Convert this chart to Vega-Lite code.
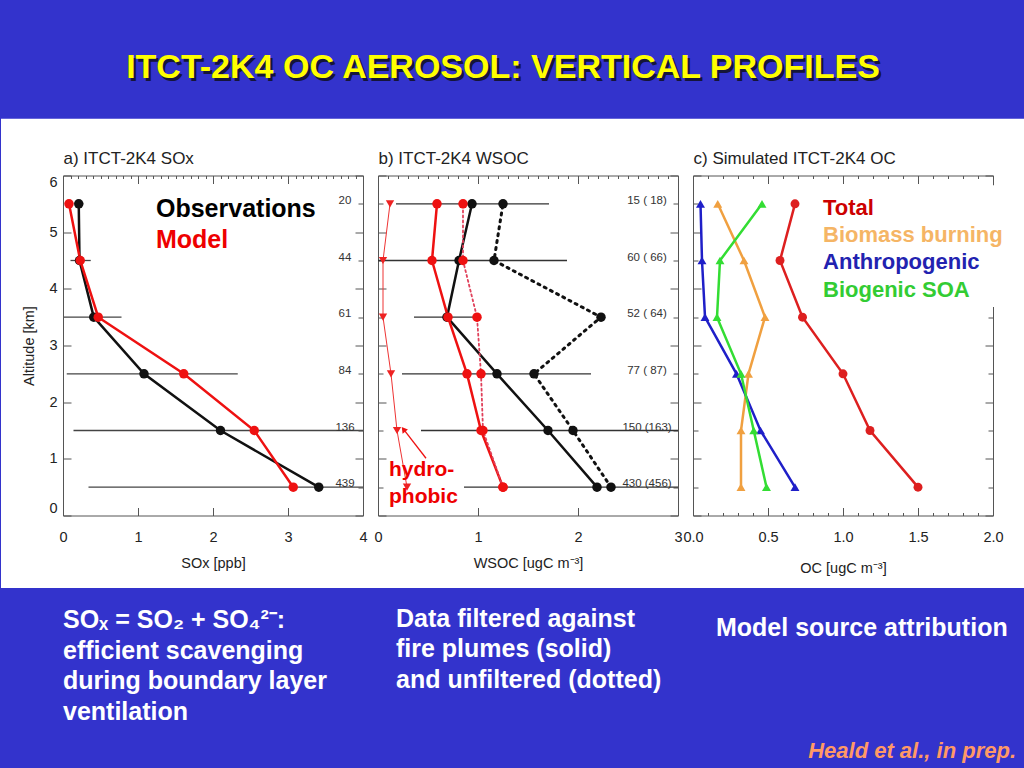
{
  "$schema": "https://vega.github.io/schema/vega-lite/v6.json",
  "background": "#3333cc",
  "padding": {"left": 0, "top": 0, "right": 0, "bottom": 20},
  "config": {
    "view": {"stroke": null},
    "font": "Liberation Sans",
    "axis": {"labelFont": "Liberation Sans", "titleFont": "Liberation Sans", "labelColor": "#222222", "titleColor": "#222222", "titleFontWeight": "normal", "domainColor": "#555555", "tickColor": "#555555", "grid": false, "labelFontSize": 14.5, "titleFontSize": 14.5},
    "title": {"font": "Liberation Sans"}
  },
  "datasets": {
    "a_prof": [
      {"s": "Observations", "alt": 5.5, "v": 0.21}, {"s": "Observations", "alt": 4.5, "v": 0.22}, {"s": "Observations", "alt": 3.5, "v": 0.41},
      {"s": "Observations", "alt": 2.5, "v": 1.08}, {"s": "Observations", "alt": 1.5, "v": 2.10}, {"s": "Observations", "alt": 0.5, "v": 3.41},
      {"s": "Model", "alt": 5.5, "v": 0.08}, {"s": "Model", "alt": 4.5, "v": 0.23}, {"s": "Model", "alt": 3.5, "v": 0.47},
      {"s": "Model", "alt": 2.5, "v": 1.61}, {"s": "Model", "alt": 1.5, "v": 2.55}, {"s": "Model", "alt": 0.5, "v": 3.07}
    ],
    "a_rng": [
      {"alt": 5.5, "lo": 0.16, "hi": 0.27}, {"alt": 4.5, "lo": 0.10, "hi": 0.37}, {"alt": 3.5, "lo": 0.0, "hi": 0.78},
      {"alt": 2.5, "lo": 0.05, "hi": 2.33}, {"alt": 1.5, "lo": 0.14, "hi": 4.0}, {"alt": 0.5, "lo": 0.34, "hi": 4.0}
    ],
    "a_n": [
      {"alt": 5.5, "n": "20"}, {"alt": 4.5, "n": "44"}, {"alt": 3.5, "n": "61"},
      {"alt": 2.5, "n": "84"}, {"alt": 1.5, "n": "136"}, {"alt": 0.5, "n": "439"}
    ],
    "b_prof": [
      {"s": "obs_f", "alt": 5.5, "v": 0.94}, {"s": "obs_f", "alt": 4.5, "v": 0.81}, {"s": "obs_f", "alt": 3.5, "v": 0.69},
      {"s": "obs_f", "alt": 2.5, "v": 1.19}, {"s": "obs_f", "alt": 1.5, "v": 1.70}, {"s": "obs_f", "alt": 0.5, "v": 2.19},
      {"s": "obs_u", "alt": 5.5, "v": 1.25}, {"s": "obs_u", "alt": 4.5, "v": 1.16}, {"s": "obs_u", "alt": 3.5, "v": 2.23},
      {"s": "obs_u", "alt": 2.5, "v": 1.56}, {"s": "obs_u", "alt": 1.5, "v": 1.95}, {"s": "obs_u", "alt": 0.5, "v": 2.33},
      {"s": "hydro", "alt": 5.5, "v": 0.12}, {"s": "hydro", "alt": 4.5, "v": 0.05}, {"s": "hydro", "alt": 3.5, "v": 0.05},
      {"s": "hydro", "alt": 2.5, "v": 0.13}, {"s": "hydro", "alt": 1.5, "v": 0.19}, {"s": "hydro", "alt": 0.5, "v": 0.29},
      {"s": "mod_u", "alt": 5.5, "v": 0.85}, {"s": "mod_u", "alt": 4.5, "v": 0.85}, {"s": "mod_u", "alt": 3.5, "v": 0.99},
      {"s": "mod_u", "alt": 2.5, "v": 1.03}, {"s": "mod_u", "alt": 1.5, "v": 1.05}, {"s": "mod_u", "alt": 0.5, "v": 1.25},
      {"s": "mod_f", "alt": 5.5, "v": 0.59}, {"s": "mod_f", "alt": 4.5, "v": 0.54}, {"s": "mod_f", "alt": 3.5, "v": 0.70},
      {"s": "mod_f", "alt": 2.5, "v": 0.89}, {"s": "mod_f", "alt": 1.5, "v": 1.03}, {"s": "mod_f", "alt": 0.5, "v": 1.25}
    ],
    "b_rng": [
      {"alt": 5.5, "lo": 0.18, "hi": 1.71}, {"alt": 4.5, "lo": 0.0, "hi": 1.89}, {"alt": 3.5, "lo": 0.36, "hi": 1.03},
      {"alt": 2.5, "lo": 0.24, "hi": 2.13}, {"alt": 1.5, "lo": 0.43, "hi": 3.0}, {"alt": 0.5, "lo": 0.86, "hi": 3.0}
    ],
    "b_n": [
      {"alt": 5.5, "n": "15 ( 18)"}, {"alt": 4.5, "n": "60 ( 66)"}, {"alt": 3.5, "n": "52 ( 64)"},
      {"alt": 2.5, "n": "77 ( 87)"}, {"alt": 1.5, "n": "150 (163)"}, {"alt": 0.5, "n": "430 (456)"}
    ],
    "c_prof": [
      {"s": "Total", "alt": 5.5, "v": 0.68}, {"s": "Total", "alt": 4.5, "v": 0.58}, {"s": "Total", "alt": 3.5, "v": 0.73},
      {"s": "Total", "alt": 2.5, "v": 1.00}, {"s": "Total", "alt": 1.5, "v": 1.18}, {"s": "Total", "alt": 0.5, "v": 1.50},
      {"s": "Biomass burning", "alt": 5.5, "v": 0.165}, {"s": "Biomass burning", "alt": 4.5, "v": 0.34}, {"s": "Biomass burning", "alt": 3.5, "v": 0.48},
      {"s": "Biomass burning", "alt": 2.5, "v": 0.37}, {"s": "Biomass burning", "alt": 1.5, "v": 0.32}, {"s": "Biomass burning", "alt": 0.5, "v": 0.32},
      {"s": "Anthropogenic", "alt": 5.5, "v": 0.05}, {"s": "Anthropogenic", "alt": 4.5, "v": 0.06}, {"s": "Anthropogenic", "alt": 3.5, "v": 0.08},
      {"s": "Anthropogenic", "alt": 2.5, "v": 0.29}, {"s": "Anthropogenic", "alt": 1.5, "v": 0.45}, {"s": "Anthropogenic", "alt": 0.5, "v": 0.68},
      {"s": "Biogenic SOA", "alt": 5.5, "v": 0.46}, {"s": "Biogenic SOA", "alt": 4.5, "v": 0.18}, {"s": "Biogenic SOA", "alt": 3.5, "v": 0.16},
      {"s": "Biogenic SOA", "alt": 2.5, "v": 0.32}, {"s": "Biogenic SOA", "alt": 1.5, "v": 0.405}, {"s": "Biogenic SOA", "alt": 0.5, "v": 0.49}
    ]
  },
  "spacing": 43.5,
  "bounds": "flush",
  "vconcat": [
    {
      "width": 880,
      "height": 132,
      "view": {"fill": "#3333cc", "stroke": null},
      "data": {"values": [{"t": "ITCT-2K4 OC AEROSOL: VERTICAL PROFILES"}]},
      "layer": [
        {"mark": {"type": "text", "font": "Liberation Sans", "fontSize": 34, "fontWeight": "bold", "color": "#15153a", "dx": 2.5, "dy": 4.5, "baseline": "middle", "align": "center"}, "encoding": {"text": {"field": "t"}}},
        {"mark": {"type": "text", "font": "Liberation Sans", "fontSize": 34, "fontWeight": "bold", "color": "#ffff00", "dy": 2, "baseline": "middle", "align": "center"}, "encoding": {"text": {"field": "t"}}}
      ]
    },
    {
      "spacing": 15,
      "bounds": "flush",
      "resolve": {"scale": {"color": "independent", "shape": "independent"}},
      "title": {"text": "Heald et al., in prep.", "orient": "bottom", "anchor": "end", "color": "#ff9966", "font": "Liberation Sans", "fontSize": 22, "fontWeight": "bold", "fontStyle": "italic", "offset": 16, "dx": -9},
      "hconcat": [
        {
          "width": 300,
          "height": 340,
          "title": {"text": ["SOₓ = SO₂ + SO₄²⁻:", "efficient scavenging", "during boundary layer", "ventilation"], "orient": "bottom", "anchor": "start", "frame": "group", "color": "white", "font": "Liberation Sans", "fontSize": 25, "fontWeight": "bold", "lineHeight": 30.5, "offset": 20},
          "resolve": {"axis": {"x": "independent", "y": "independent"}},
          "layer": [
            {
              "data": {"values": [{}]},
              "mark": {"type": "rect", "color": "white"},
              "encoding": {
                "x": {"datum": -0.8267, "type": "quantitative", "scale": {"domain": [0, 4]}, "axis": null},
                "x2": {"datum": 12.8267},
                "y": {"datum": 7.0, "type": "quantitative", "scale": {"domain": [0, 6]}, "axis": null},
                "y2": {"datum": -1.28}
              }
            },
            {
              "data": {"name": "a_rng"},
              "mark": {"type": "rule", "color": "#444444", "strokeWidth": 1.3},
              "encoding": {
                "x": {"field": "lo", "type": "quantitative", "scale": {"domain": [0, 4]},
                  "axis": {"orient": "top", "tickCount": 40, "labels": false, "tickSize": {"condition": {"test": "datum.value % 1 === 0", "value": -8}, "value": -3}, "title": "a) ITCT-2K4 SOx", "titleAnchor": "start", "titleFontSize": 17, "titlePadding": 8, "zindex": 1}},
                "x2": {"field": "hi"},
                "y": {"field": "alt", "type": "quantitative", "scale": {"domain": [0, 6]},
                  "axis": {"orient": "right", "values": [0, 0.5, 1, 1.5, 2, 2.5, 3, 3.5, 4, 4.5, 5, 5.5, 6], "labels": false, "tickSize": {"condition": {"test": "datum.value % 1 === 0", "value": -8}, "value": -5}, "title": null, "zindex": 1}}
              }
            },
            {
              "data": {"name": "a_prof"},
              "mark": {"type": "line", "strokeWidth": 2.5, "point": {"filled": true, "size": 90}},
              "encoding": {
                "x": {"field": "v", "type": "quantitative", "scale": {"domain": [0, 4]},
                  "axis": {"orient": "bottom", "tickCount": 40, "format": "d", "labelExpr": "datum.value % 1 === 0 ? datum.label : ''", "labelOverlap": false, "labelBound": false, "labelFlush": false, "tickSize": {"condition": {"test": "datum.value % 1 === 0", "value": -8}, "value": -3}, "labelPadding": 23, "title": "SOx [ppb]", "titlePadding": 12, "zindex": 1}},
                "y": {"field": "alt", "type": "quantitative", "scale": {"domain": [0, 6]},
                  "axis": {"orient": "left", "values": [0, 0.5, 1, 1.5, 2, 2.5, 3, 3.5, 4, 4.5, 5, 5.5, 6], "format": "d", "labelExpr": "datum.value % 1 === 0 ? datum.label : ''", "labelFlush": true, "labelOverlap": false, "tickSize": {"condition": {"test": "datum.value % 1 === 0", "value": -8}, "value": -5}, "labelPadding": 14, "title": "Altitude [km]", "titlePadding": 12, "zindex": 1}},
                "order": {"field": "alt"},
                "color": {"field": "s", "type": "nominal", "scale": {"domain": ["Observations", "Model"], "range": ["#111111", "#ee1111"]}, "legend": null}
              }
            },
            {
              "data": {"name": "a_n"},
              "mark": {"type": "text", "fontSize": 11.5, "color": "#333333", "align": "center", "baseline": "middle", "dy": -3},
              "encoding": {
                "x": {"datum": 3.76, "type": "quantitative", "scale": {"domain": [0, 4]}, "axis": null},
                "y": {"field": "alt", "type": "quantitative", "scale": {"domain": [0, 6]}, "axis": null},
                "text": {"field": "n"}
              }
            },
            {
              "data": {"values": [{"t": "Observations"}]},
              "mark": {"type": "text", "fontSize": 25, "fontWeight": "bold", "color": "#000000", "align": "left", "baseline": "middle"},
              "encoding": {
                "x": {"datum": 1.24, "type": "quantitative", "scale": {"domain": [0, 4]}, "axis": null},
                "y": {"datum": 5.41, "type": "quantitative", "scale": {"domain": [0, 6]}, "axis": null},
                "text": {"field": "t"}
              }
            },
            {
              "data": {"values": [{"t": "Model"}]},
              "mark": {"type": "text", "fontSize": 25, "fontWeight": "bold", "color": "#ee0000", "align": "left", "baseline": "middle"},
              "encoding": {
                "x": {"datum": 1.24, "type": "quantitative", "scale": {"domain": [0, 4]}, "axis": null},
                "y": {"datum": 4.86, "type": "quantitative", "scale": {"domain": [0, 6]}, "axis": null},
                "text": {"field": "t"}
              }
            }
          ]
        },
        {
          "width": 300,
          "height": 340,
          "title": {"text": ["Data filtered against", "fire plumes (solid)", "and unfiltered (dotted)"], "orient": "bottom", "anchor": "start", "frame": "group", "color": "white", "font": "Liberation Sans", "fontSize": 25, "fontWeight": "bold", "lineHeight": 30.5, "offset": 37, "dx": 18},
          "resolve": {"axis": {"x": "independent", "y": "independent"}},
          "layer": [
            {
              "data": {"name": "b_rng"},
              "mark": {"type": "rule", "color": "#333333", "strokeWidth": 1.3},
              "encoding": {
                "x": {"field": "lo", "type": "quantitative", "scale": {"domain": [0, 3]},
                  "axis": {"orient": "top", "tickCount": 30, "labels": false, "tickSize": {"condition": {"test": "datum.value % 1 === 0", "value": -8}, "value": -3}, "title": "b) ITCT-2K4 WSOC", "titleAnchor": "start", "titleFontSize": 17, "titlePadding": 8, "zindex": 0}},
                "x2": {"field": "hi"},
                "y": {"field": "alt", "type": "quantitative", "scale": {"domain": [0, 6]},
                  "axis": {"orient": "right", "values": [0, 0.5, 1, 1.5, 2, 2.5, 3, 3.5, 4, 4.5, 5, 5.5, 6], "labels": false, "tickSize": {"condition": {"test": "datum.value % 1 === 0", "value": -8}, "value": -5}, "title": null, "zindex": 0}}
              }
            },
            {
              "data": {"name": "b_prof"},
              "transform": [{"filter": {"field": "s", "oneOf": ["obs_f", "mod_f"]}}],
              "mark": {"type": "line", "strokeWidth": 2.5},
              "encoding": {
                "x": {"field": "v", "type": "quantitative", "scale": {"domain": [0, 3]},
                  "axis": {"orient": "bottom", "tickCount": 30, "format": "d", "labelExpr": "datum.value % 1 === 0 ? datum.label : ''", "labelOverlap": false, "labelBound": false, "labelFlush": false, "tickSize": {"condition": {"test": "datum.value % 1 === 0", "value": -8}, "value": -3}, "labelPadding": 23, "title": "WSOC [ugC m⁻³]", "titlePadding": 12, "zindex": 0}},
                "y": {"field": "alt", "type": "quantitative", "scale": {"domain": [0, 6]},
                  "axis": {"orient": "left", "values": [0, 0.5, 1, 1.5, 2, 2.5, 3, 3.5, 4, 4.5, 5, 5.5, 6], "labels": false, "tickSize": {"condition": {"test": "datum.value % 1 === 0", "value": -8}, "value": -5}, "title": null, "zindex": 0}},
                "order": {"field": "alt"},
                "color": {"field": "s", "type": "nominal", "scale": {"domain": ["obs_f", "obs_u", "hydro", "mod_u", "mod_f"], "range": ["#111111", "#111111", "#ee2222", "#ee1111", "#ee1111"]}, "legend": null}
              }
            },
            {
              "data": {"name": "b_prof"},
              "transform": [{"filter": {"field": "s", "equal": "obs_u"}}],
              "mark": {"type": "line", "strokeWidth": 3, "color": "#111111", "strokeDash": [2, 5], "strokeCap": "round"},
              "encoding": {
                "x": {"field": "v", "type": "quantitative", "scale": {"domain": [0, 3]}, "axis": null},
                "y": {"field": "alt", "type": "quantitative", "scale": {"domain": [0, 6]}, "axis": null},
                "order": {"field": "alt"}
              }
            },
            {
              "data": {"name": "b_prof"},
              "transform": [{"filter": {"field": "s", "equal": "mod_u"}}],
              "mark": {"type": "line", "strokeWidth": 1.8, "color": "#e0405a", "strokeDash": [2, 3], "strokeCap": "round"},
              "encoding": {
                "x": {"field": "v", "type": "quantitative", "scale": {"domain": [0, 3]}, "axis": null},
                "y": {"field": "alt", "type": "quantitative", "scale": {"domain": [0, 6]}, "axis": null},
                "order": {"field": "alt"}
              }
            },
            {
              "data": {"name": "b_prof"},
              "transform": [{"filter": {"field": "s", "equal": "hydro"}}],
              "mark": {"type": "line", "strokeWidth": 1, "color": "#ee3333"},
              "encoding": {
                "x": {"field": "v", "type": "quantitative", "scale": {"domain": [0, 3]}, "axis": null},
                "y": {"field": "alt", "type": "quantitative", "scale": {"domain": [0, 6]}, "axis": null},
                "order": {"field": "alt"}
              }
            },
            {
              "data": {"name": "b_prof"},
              "transform": [{"filter": {"field": "s", "oneOf": ["obs_f", "obs_u", "mod_u", "mod_f"]}}],
              "mark": {"type": "point", "filled": true, "size": 90, "opacity": 1},
              "encoding": {
                "x": {"field": "v", "type": "quantitative", "scale": {"domain": [0, 3]}, "axis": null},
                "y": {"field": "alt", "type": "quantitative", "scale": {"domain": [0, 6]}, "axis": null},
                "color": {"field": "s", "type": "nominal", "scale": {"domain": ["obs_f", "obs_u", "hydro", "mod_u", "mod_f"], "range": ["#111111", "#111111", "#ee2222", "#ee1111", "#ee1111"]}, "legend": null}
              }
            },
            {
              "data": {"name": "b_prof"},
              "transform": [{"filter": {"field": "s", "equal": "hydro"}}],
              "mark": {"type": "point", "shape": "triangle-down", "filled": true, "size": 70, "opacity": 1, "color": "#ee2222"},
              "encoding": {
                "x": {"field": "v", "type": "quantitative", "scale": {"domain": [0, 3]}, "axis": null},
                "y": {"field": "alt", "type": "quantitative", "scale": {"domain": [0, 6]}, "axis": null}
              }
            },
            {
              "data": {"name": "b_n"},
              "mark": {"type": "text", "fontSize": 11.5, "color": "#333333", "align": "center", "baseline": "middle", "dy": -3},
              "encoding": {
                "x": {"datum": 2.69, "type": "quantitative", "scale": {"domain": [0, 3]}, "axis": null},
                "y": {"field": "alt", "type": "quantitative", "scale": {"domain": [0, 6]}, "axis": null},
                "text": {"field": "n"}
              }
            },
            {
              "data": {"values": [{}]},
              "mark": {"type": "rule", "color": "#ee1111", "strokeWidth": 1.3},
              "encoding": {
                "x": {"datum": 0.48, "type": "quantitative", "scale": {"domain": [0, 3]}, "axis": null},
                "y": {"datum": 1.01, "type": "quantitative", "scale": {"domain": [0, 6]}, "axis": null},
                "x2": {"datum": 0.27},
                "y2": {"datum": 1.49}
              }
            },
            {
              "data": {"values": [{}]},
              "mark": {"type": "point", "shape": "triangle-up", "filled": true, "size": 45, "opacity": 1, "color": "#ee1111", "angle": -38},
              "encoding": {
                "x": {"datum": 0.255, "type": "quantitative", "scale": {"domain": [0, 3]}, "axis": null},
                "y": {"datum": 1.52, "type": "quantitative", "scale": {"domain": [0, 6]}, "axis": null}
              }
            },
            {
              "data": {"values": [{"t": "hydro-\nphobic"}]},
              "mark": {"type": "text", "fontSize": 21, "fontWeight": "bold", "color": "#ee0000", "align": "left", "baseline": "middle", "lineBreak": "\n", "lineHeight": 27},
              "encoding": {
                "x": {"datum": 0.11, "type": "quantitative", "scale": {"domain": [0, 3]}, "axis": null},
                "y": {"datum": 0.8, "type": "quantitative", "scale": {"domain": [0, 6]}, "axis": null},
                "text": {"field": "t"}
              }
            }
          ]
        },
        {
          "width": 300,
          "height": 340,
          "title": {"text": "Model source attribution", "orient": "bottom", "anchor": "start", "frame": "group", "color": "white", "font": "Liberation Sans", "fontSize": 25, "fontWeight": "bold", "lineHeight": 30.5, "offset": 37, "dx": 23, "dy": 4},
          "resolve": {"axis": {"x": "independent", "y": "independent"}},
          "layer": [
            {
              "data": {"name": "c_prof"},
              "mark": {"type": "line", "strokeWidth": 2.5},
              "encoding": {
                "x": {"field": "v", "type": "quantitative", "scale": {"domain": [0, 2]},
                  "axis": {"orient": "bottom", "tickCount": 20, "format": ".1f", "labelExpr": "(datum.value * 2) % 1 === 0 ? datum.label : ''", "labelOverlap": false, "labelBound": false, "labelFlush": false, "tickSize": {"condition": {"test": "(datum.value * 2) % 1 === 0", "value": -8}, "value": -3}, "labelPadding": 23, "title": "OC [ugC m⁻³]", "titlePadding": 12, "zindex": 0}},
                "y": {"field": "alt", "type": "quantitative", "scale": {"domain": [0, 6]},
                  "axis": {"orient": "left", "values": [0, 0.5, 1, 1.5, 2, 2.5, 3, 3.5, 4, 4.5, 5, 5.5, 6], "labels": false, "tickSize": {"condition": {"test": "datum.value % 1 === 0", "value": -8}, "value": -5}, "title": null, "zindex": 0}},
                "order": {"field": "alt"},
                "color": {"field": "s", "type": "nominal", "scale": {"domain": ["Total", "Biomass burning", "Anthropogenic", "Biogenic SOA"], "range": ["#dd1f1f", "#f0a040", "#1f1fc8", "#33dd33"]}, "legend": null}
              }
            },
            {
              "data": {"name": "c_prof"},
              "mark": {"type": "point", "filled": true, "size": 80, "opacity": 1},
              "encoding": {
                "x": {"field": "v", "type": "quantitative", "scale": {"domain": [0, 2]},
                  "axis": {"orient": "top", "tickCount": 20, "labels": false, "tickSize": {"condition": {"test": "(datum.value * 2) % 1 === 0", "value": -8}, "value": -3}, "title": "c) Simulated ITCT-2K4 OC", "titleAnchor": "start", "titleFontSize": 17, "titlePadding": 8, "zindex": 0}},
                "y": {"field": "alt", "type": "quantitative", "scale": {"domain": [0, 6]},
                  "axis": {"orient": "right", "values": [0, 0.5, 1, 1.5, 2, 2.5, 3, 3.5, 4, 4.5, 5, 5.5, 6], "labels": false, "tickSize": {"condition": {"test": "datum.value % 1 === 0", "value": -8}, "value": -5}, "title": null, "zindex": 0}},
                "color": {"field": "s", "type": "nominal", "scale": {"domain": ["Total", "Biomass burning", "Anthropogenic", "Biogenic SOA"], "range": ["#dd1f1f", "#f0a040", "#1f1fc8", "#33dd33"]}, "legend": null},
                "shape": {"field": "s", "type": "nominal", "scale": {"domain": ["Total", "Biomass burning", "Anthropogenic", "Biogenic SOA"], "range": ["circle", "triangle-up", "triangle-up", "triangle-up"]}, "legend": null}
              }
            },
            {
              "data": {"values": [{}]},
              "mark": {"type": "rect", "color": "white"},
              "encoding": {
                "x": {"datum": 0.82, "type": "quantitative", "scale": {"domain": [0, 2]}, "axis": null},
                "x2": {"datum": 2.12},
                "y": {"datum": 5.83, "type": "quantitative", "scale": {"domain": [0, 6]}, "axis": null},
                "y2": {"datum": 3.68}
              }
            },
            {
              "data": {"values": [{"t": "Total"}]},
              "mark": {"type": "text", "fontSize": 22, "fontWeight": "bold", "color": "#cc0000", "align": "left", "baseline": "middle"},
              "encoding": {
                "x": {"datum": 0.867, "type": "quantitative", "scale": {"domain": [0, 2]}, "axis": null},
                "y": {"datum": 5.43, "type": "quantitative", "scale": {"domain": [0, 6]}, "axis": null},
                "text": {"field": "t"}
              }
            },
            {
              "data": {"values": [{"t": "Biomass burning"}]},
              "mark": {"type": "text", "fontSize": 22, "fontWeight": "bold", "color": "#f5b565", "align": "left", "baseline": "middle"},
              "encoding": {
                "x": {"datum": 0.867, "type": "quantitative", "scale": {"domain": [0, 2]}, "axis": null},
                "y": {"datum": 4.95, "type": "quantitative", "scale": {"domain": [0, 6]}, "axis": null},
                "text": {"field": "t"}
              }
            },
            {
              "data": {"values": [{"t": "Anthropogenic"}]},
              "mark": {"type": "text", "fontSize": 22, "fontWeight": "bold", "color": "#2222b0", "align": "left", "baseline": "middle"},
              "encoding": {
                "x": {"datum": 0.867, "type": "quantitative", "scale": {"domain": [0, 2]}, "axis": null},
                "y": {"datum": 4.47, "type": "quantitative", "scale": {"domain": [0, 6]}, "axis": null},
                "text": {"field": "t"}
              }
            },
            {
              "data": {"values": [{"t": "Biogenic SOA"}]},
              "mark": {"type": "text", "fontSize": 22, "fontWeight": "bold", "color": "#33cc33", "align": "left", "baseline": "middle"},
              "encoding": {
                "x": {"datum": 0.867, "type": "quantitative", "scale": {"domain": [0, 2]}, "axis": null},
                "y": {"datum": 3.98, "type": "quantitative", "scale": {"domain": [0, 6]}, "axis": null},
                "text": {"field": "t"}
              }
            }
          ]
        }
      ]
    }
  ]
}
